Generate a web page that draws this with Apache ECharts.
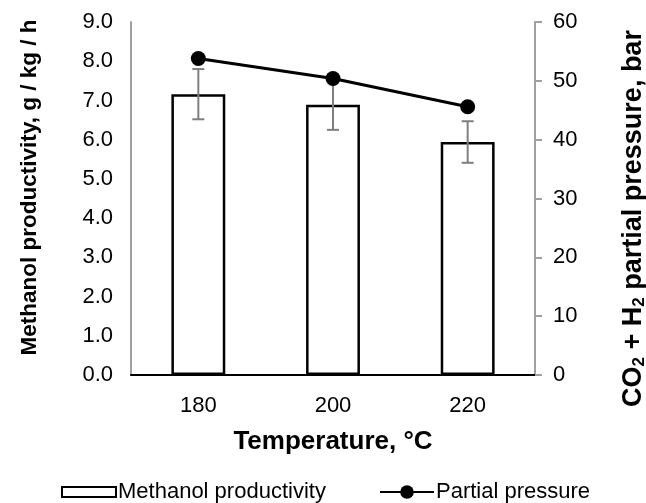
<!DOCTYPE html>
<html>
<head>
<meta charset="utf-8">
<script src="https://cdn.jsdelivr.net/npm/echarts@6/dist/echarts.min.js"></script>
<style>
  html, body { margin: 0; padding: 0; background: #fff; }
  #chart { width: 646px; height: 503px; }
</style>
</head>
<body>
<div id="chart"></div>
<script>
// Reaction temperature (°C)
var temperatures = ['180', '200', '220'];
// Methanol productivity, g / kg / h
var productivity = [7.16, 6.89, 5.94];
// Standard deviation of the productivity
var productivityError = [0.64, 0.64, 0.53];
// CO2 + H2 partial pressure, bar
var partialPressure = [53.8, 50.4, 45.6];

var FONT = '"Liberation Sans", Arial, sans-serif';
var AXIS_GRAY = '#a0a0a0';
var TICK_SIZE = 22;

var errorData = temperatures.map(function (t, i) {
  return [i, productivity[i] - productivityError[i], productivity[i] + productivityError[i]];
});

var legendText = { fontFamily: FONT, fontSize: 22, color: '#000', padding: [0, 0, 0, -3] };

var chart = echarts.init(document.getElementById('chart'), null, { renderer: 'canvas' });

chart.setOption({
  animation: false,
  backgroundColor: '#ffffff',
  textStyle: { fontFamily: FONT, color: '#000' },
  grid: { left: 131, right: 111, top: 22, bottom: 128, containLabel: false, outerBoundsMode: 'none' },
  legend: [
    {
      data: [{ name: 'Methanol productivity', icon: 'rect', itemStyle: { color: '#fff', borderColor: '#000', borderWidth: 2 } }],
      left: 61,
      top: 481,
      padding: 0,
      itemWidth: 54,
      itemHeight: 10,
      textStyle: legendText
    },
    {
      data: [{ name: 'Partial pressure' }],
      left: 379,
      top: 481,
      padding: 0,
      itemWidth: 54,
      itemHeight: 17,
      textStyle: legendText
    }
  ],
  xAxis: [
    {
      type: 'category',
      data: temperatures,
      position: 'bottom',
      axisLine: { show: true, lineStyle: { color: AXIS_GRAY, width: 2 } },
      axisTick: { show: false },
      axisLabel: { fontFamily: FONT, fontSize: TICK_SIZE, color: '#000', margin: 20 },
      name: 'Temperature, °C',
      nameLocation: 'middle',
      nameGap: 54,
      nameTextStyle: { fontFamily: FONT, fontSize: 26, fontWeight: 'bold', color: '#000' }
    },
    {
      type: 'category',
      data: temperatures,
      position: 'top',
      axisLine: { show: true, lineStyle: { color: '#000', width: 2 } },
      axisTick: { show: false },
      axisLabel: { show: false }
    }
  ],
  yAxis: [
    {
      type: 'value',
      min: 0, max: 9, interval: 1,
      position: 'left',
      splitLine: { show: false },
      axisLine: { show: true, lineStyle: { color: AXIS_GRAY, width: 2 } },
      axisTick: { show: false },
      axisLabel: {
        fontFamily: FONT, fontSize: TICK_SIZE, color: '#000', margin: 18,
        formatter: function (v) { return v.toFixed(1); }
      },
      name: 'Methanol productivity, g / kg / h',
      nameLocation: 'middle',
      nameRotate: 90,
      nameGap: 90,
      nameTextStyle: {
        fontFamily: FONT, fontSize: 22.5, fontWeight: 'bold', color: '#000',
        padding: [0, 0, 0, 22]
      }
    },
    {
      type: 'value',
      min: 0, max: 60, interval: 10,
      position: 'right',
      splitLine: { show: false },
      axisLine: { show: true, lineStyle: { color: AXIS_GRAY, width: 2 } },
      axisTick: { show: true, inside: false, length: 7, lineStyle: { color: AXIS_GRAY, width: 2 } },
      axisLabel: { fontFamily: FONT, fontSize: TICK_SIZE, color: '#000', margin: 18 },
      name: '{n|CO}{s|2}{n| + H}{s|2}{n| partial pressure, bar}',
      nameLocation: 'middle',
      nameRotate: 90,
      nameGap: 84,
      nameTextStyle: {
        fontFamily: FONT, fontSize: 27, fontWeight: 'bold', color: '#000',
        padding: [0, 40, 0, 0],
        rich: {
          n: { fontFamily: FONT, fontSize: 27, fontWeight: 'bold', color: '#000' },
          s: { fontFamily: FONT, fontSize: 17, fontWeight: 'bold', color: '#000', verticalAlign: 'bottom', padding: [12, 0, 0, 0] }
        }
      }
    }
  ],
  series: [
    {
      name: 'Methanol productivity',
      type: 'bar',
      xAxisIndex: 0,
      yAxisIndex: 0,
      data: productivity,
      barWidth: '40%',
      itemStyle: { color: '#fff', borderColor: '#000', borderWidth: 2.5 },
      z: 2
    },
    {
      name: 'Productivity error',
      type: 'custom',
      xAxisIndex: 0,
      yAxisIndex: 0,
      data: errorData,
      z: 3,
      renderItem: function (params, api) {
        var x = api.value(0);
        var lo = api.coord([x, api.value(1)]);
        var hi = api.coord([x, api.value(2)]);
        var cap = 6;
        var style = { stroke: '#7f7f7f', lineWidth: 2 };
        return {
          type: 'group',
          children: [
            { type: 'line', shape: { x1: lo[0], y1: lo[1], x2: hi[0], y2: hi[1] }, style: style },
            { type: 'line', shape: { x1: lo[0] - cap, y1: lo[1], x2: lo[0] + cap, y2: lo[1] }, style: style },
            { type: 'line', shape: { x1: hi[0] - cap, y1: hi[1], x2: hi[0] + cap, y2: hi[1] }, style: style }
          ]
        };
      }
    },
    {
      name: 'Partial pressure',
      type: 'line',
      xAxisIndex: 0,
      yAxisIndex: 1,
      data: partialPressure,
      symbol: 'circle',
      symbolSize: 15,
      lineStyle: { color: '#000', width: 3 },
      itemStyle: { color: '#000' },
      z: 4
    }
  ]
});
</script>
</body>
</html>
